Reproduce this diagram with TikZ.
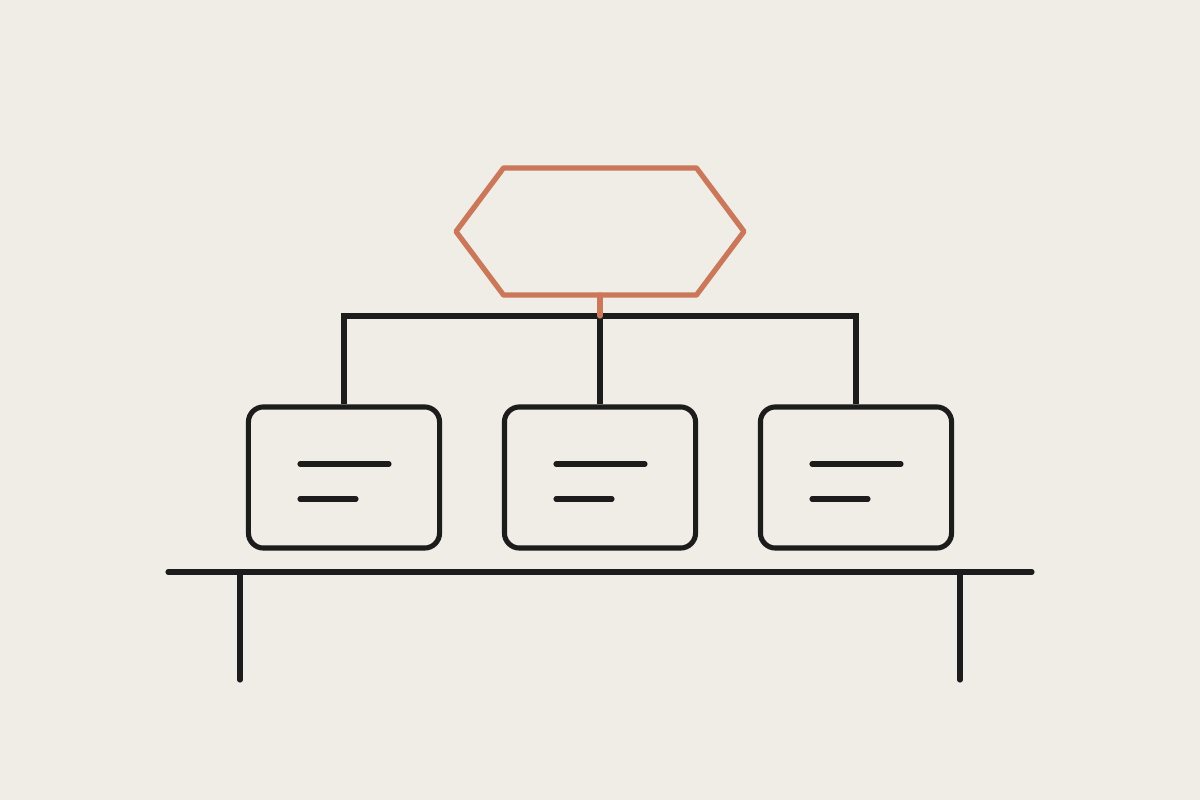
\documentclass[tikz,border=0pt]{standalone}
\usepackage{tikz}
\usetikzlibrary{calc}

\definecolor{paper}{HTML}{F0EDE6}
\definecolor{ink}{HTML}{1C1C1C}
\definecolor{rust}{HTML}{CB785A}

\begin{document}
\begin{tikzpicture}[x=0.01cm,y=-0.01cm,
  wire/.style={draw=ink,line width=1.45pt},
  card/.style={draw=ink,line width=1.45pt,rectangle,rounded corners=0.15cm,minimum width=1.91cm,minimum height=1.41cm,inner sep=0pt},
  bar/.style={draw=ink,line width=1.45pt,line cap=round}]

  \fill[paper] (0,0) rectangle (1200,800);
  \useasboundingbox (0,0) rectangle (1200,800);

  \def\hexw{96.5}
  \def\hexh{63.5}
  \coordinate (hc) at (600,231.5);
  \draw[rust,line width=1.5pt,line join=round]
    ($(hc)+(-\hexw,-\hexh)$) -- ($(hc)+(\hexw,-\hexh)$) -- ($(hc)+(\hexw+47.5,0)$)
    -- ($(hc)+(\hexw,\hexh)$) -- ($(hc)+(-\hexw,\hexh)$) -- ($(hc)+(-\hexw-47.5,0)$) -- cycle;
  \coordinate (hexb) at ($(hc)+(0,\hexh)$);
  \coordinate (bus) at (600,316);

  \foreach \i/\x in {1/344,2/600,3/856} {
    \node[card] (b\i) at (\x,477.5) {};
    \draw[bar] ($(b\i.center)+(-44,-13.5)$) -- ++(89,0);
    \draw[bar] ($(b\i.center)+(-44,21.5)$) -- ++(56,0);
  }

  \draw[wire] (b1.north) -- (b1.north |- bus) -| (b3.north);
  \draw[wire] (b2.north) -- (bus);
  \draw[rust,line width=1.5pt,line cap=round] (hexb) -- (bus);

  \coordinate (sl) at (168,572);
  \coordinate (sr) at (1032,572);
  \coordinate (fl) at (240,680);
  \coordinate (fr) at (960,680);
  \draw[bar] (sl) -- (sr);
  \draw[bar] (fl) -- (fl |- sl);
  \draw[bar] (fr) -- (fr |- sr);

\end{tikzpicture}
\end{document}
